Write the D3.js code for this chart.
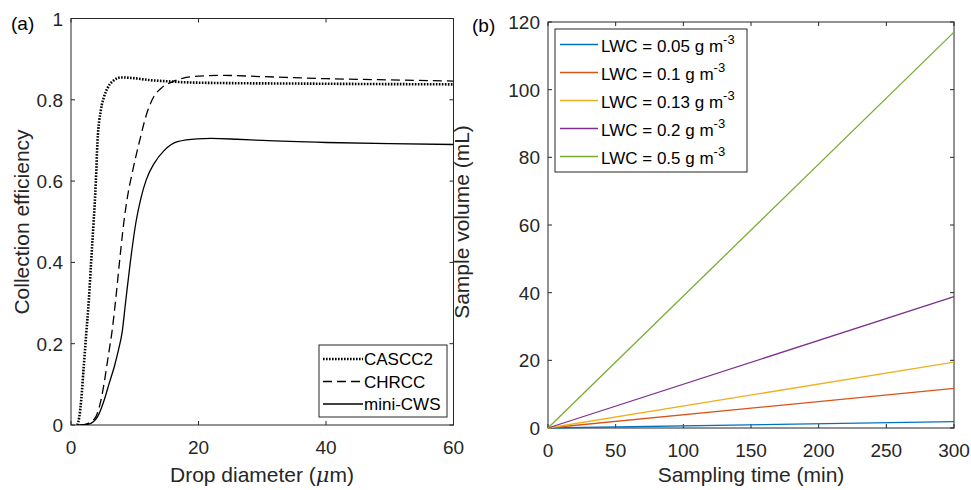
<!DOCTYPE html>
<html><head><meta charset="utf-8">
<script src="https://cdn.jsdelivr.net/npm/d3@7"></script>
<style>
body{margin:0;background:#fff;}
svg{display:block;font-family:"Liberation Sans",Arial,sans-serif;}
</style></head>
<body><svg id="c" width="971" height="490"></svg>
<script>
// ---- Panel (a) data: collection efficiency vs drop diameter (µm)
const cascc2D = [1,1.3,1.6,2.0,2.4,2.8,3.15,3.55,3.9,4.15,4.7,5.2,5.7,6.5,7.9,10,12,14.6,18,25,35,45,60];
const cascc2E = [0,0.02,0.061,0.144,0.226,0.307,0.4,0.5,0.6,0.695,0.776,0.808,0.828,0.845,0.855,0.853,0.849,0.846,0.843,0.841,0.840,0.839,0.838];
const chrccD = [1.5,2.5,3.3,3.9,4.7,5.2,5.6,6.0,6.4,7.0,7.6,8.3,8.9,9.6,10.7,12,13,14.1,15.7,17.5,20,24,30,40,50,60];
const chrccE = [0,0.003,0.01,0.02,0.061,0.103,0.144,0.185,0.226,0.307,0.4,0.5,0.565,0.62,0.695,0.772,0.808,0.828,0.843,0.853,0.858,0.86,0.857,0.852,0.849,0.846];
const miniD = [1,2.8,3.5,4.15,5.2,6.0,6.8,7.45,8.0,8.6,9.3,10.2,11.0,11.8,13.1,14.6,16.7,19.8,22,26,30,40,50,60];
const miniE = [0,0.002,0.008,0.02,0.061,0.103,0.144,0.185,0.226,0.307,0.4,0.5,0.56,0.603,0.645,0.675,0.697,0.704,0.705,0.703,0.700,0.695,0.692,0.690];
const seriesA = ["CASCC2","CHRCC","mini-CWS"];
const xTicksA = [0,20,40,60];
const yTicksA = [0,0.2,0.4,0.6,0.8,1];

// ---- Panel (b) data: sample volume (mL) vs sampling time (min)
const timeB = [0,300];
const lwcLabels = ["0.05","0.1","0.13","0.2","0.5"];
const vol005 = [0,1.9];
const vol01 = [0,11.7];
const vol013 = [0,19.5];
const vol02 = [0,38.8];
const vol05 = [0,117];
const xTicksB = [0,50,100,150,200,250,300];
const yTicksB = [0,20,40,60,80,100,120];

const colorsB = ["#0072BD","#D95319","#EDB120","#7E2F8E","#77AC30"];
const axisCol = "#262626";

const svg = d3.select("#c");

function frame(g, x, y, xt, yt, fmtX, fmtY){
  const [x0,x1] = x.range(), [y0,y1] = y.range();
  const tl = 4;
  g.append("rect").attr("x",x0).attr("y",y1).attr("width",x1-x0).attr("height",y0-y1)
   .attr("fill","none").attr("stroke",axisCol).attr("stroke-width",1);
  xt.forEach(t=>{
    const px = x(t);
    g.append("line").attr("x1",px).attr("x2",px).attr("y1",y0).attr("y2",y0-tl).attr("stroke",axisCol);
    g.append("line").attr("x1",px).attr("x2",px).attr("y1",y1).attr("y2",y1+tl).attr("stroke",axisCol);
    g.append("text").attr("x",px).attr("y",y0+29).attr("text-anchor","middle")
     .attr("font-size",19).attr("fill",axisCol).text(fmtX(t));
  });
  yt.forEach(t=>{
    const py = y(t);
    g.append("line").attr("x1",x0).attr("x2",x0+tl).attr("y1",py).attr("y2",py).attr("stroke",axisCol);
    g.append("line").attr("x1",x1).attr("x2",x1-tl).attr("y1",py).attr("y2",py).attr("stroke",axisCol);
    g.append("text").attr("x",x0-8).attr("y",py+7).attr("text-anchor","end")
     .attr("font-size",19).attr("fill",axisCol).text(fmtY(t));
  });
}

// ================= Panel (a)
const gA = svg.append("g");
const xA = d3.scaleLinear().domain([0,60]).range([71,453.5]);
const yA = d3.scaleLinear().domain([0,1]).range([425,18.5]);
frame(gA, xA, yA, xTicksA, yTicksA, d=>d3.format("d")(d), d=> d===0||d===1 ? String(d) : d3.format(".1f")(d));

const lineA = d3.line().x(d=>xA(d[0])).y(d=>yA(d[1])).curve(d3.curveMonotoneX);
const stylesA = [
  {dash:"1.6,1.4", w:2.6},
  {dash:"9,5", w:1.3},
  {dash:null, w:1.3}
];
const dataA = [d3.zip(cascc2D,cascc2E), d3.zip(chrccD,chrccE), d3.zip(miniD,miniE)];
gA.append("clipPath").attr("id","clipA").append("rect")
  .attr("x",71).attr("y",18.5).attr("width",382.5).attr("height",406.5);
dataA.forEach((d,i)=>{
  gA.append("path").attr("d",lineA(d)).attr("fill","none").attr("stroke","#000")
    .attr("stroke-width",stylesA[i].w).attr("stroke-dasharray",stylesA[i].dash)
    .attr("clip-path","url(#clipA)");
});
// legend (a)
const legA = gA.append("g");
legA.append("rect").attr("x",319).attr("y",345).attr("width",128).attr("height",72)
  .attr("fill","#fff").attr("stroke",axisCol);
seriesA.forEach((s,i)=>{
  const yy = 359 + i*22.5;
  legA.append("line").attr("x1",323).attr("x2",363).attr("y1",yy).attr("y2",yy)
    .attr("stroke","#000").attr("stroke-width",stylesA[i].w).attr("stroke-dasharray",stylesA[i].dash);
  legA.append("text").attr("x",364).attr("y",yy+6).attr("font-size",17).attr("fill","#000").text(s);
});
gA.append("text").attr("x",262).attr("y",482).attr("text-anchor","middle").attr("font-size",21).attr("fill",axisCol)
  .html("Drop diameter (<tspan font-style='italic' font-family='DejaVu Serif,serif'>μ</tspan>m)");
gA.append("text").attr("transform","translate(29,222) rotate(-90)").attr("text-anchor","middle")
  .attr("font-size",21).attr("fill",axisCol).text("Collection efficiency");
gA.append("text").attr("x",11).attr("y",30).attr("font-size",19).attr("fill","#000").text("(a)");

// ================= Panel (b)
const gB = svg.append("g");
const xB = d3.scaleLinear().domain([0,300]).range([548,954]);
const yB = d3.scaleLinear().domain([0,120]).range([428,22]);
frame(gB, xB, yB, xTicksB, yTicksB, d=>String(d), d=>String(d));
const volsB = [vol005, vol01, vol013, vol02, vol05];
const lineB = d3.line().x(d=>xB(d[0])).y(d=>yB(d[1]));
volsB.forEach((v,i)=>{
  gB.append("path").attr("d",lineB(d3.zip(timeB,v))).attr("fill","none")
    .attr("stroke",colorsB[i]).attr("stroke-width",1.3);
});
const legB = gB.append("g");
legB.append("rect").attr("x",555).attr("y",29).attr("width",192).attr("height",143)
  .attr("fill","#fff").attr("stroke",axisCol);
lwcLabels.forEach((l,i)=>{
  const yy = 44.5 + i*28;
  legB.append("line").attr("x1",560).attr("x2",598).attr("y1",yy).attr("y2",yy)
    .attr("stroke",colorsB[i]).attr("stroke-width",1.3);
  const t = legB.append("text").attr("x",601).attr("y",yy+7).attr("font-size",17).attr("fill","#000");
  t.append("tspan").text("LWC = " + l + " g m");
  t.append("tspan").attr("dy",-8).attr("font-size",13).text("-3");
});
gB.append("text").attr("x",751).attr("y",482).attr("text-anchor","middle").attr("font-size",21).attr("fill",axisCol)
  .text("Sampling time (min)");
gB.append("text").attr("transform","translate(469,222) rotate(-90)").attr("text-anchor","middle")
  .attr("font-size",21).attr("fill",axisCol).text("Sample volume (mL)");
gB.append("text").attr("x",472).attr("y",32).attr("font-size",19).attr("fill","#000").text("(b)");
</script></body></html>
